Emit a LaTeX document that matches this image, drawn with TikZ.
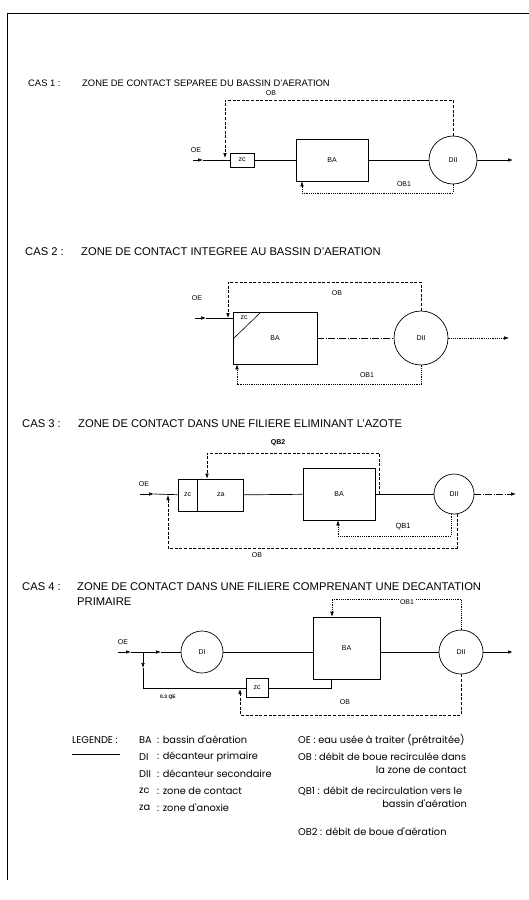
\documentclass[tikz,border=0pt]{standalone}
\usepackage{fontspec}
\setmainfont{Liberation Sans}
\newfontfamily\legfont{Poppins}
\usetikzlibrary{arrows.meta}

\newcommand{\tagfont}{\fontsize{7}{8}\selectfont}
\newcommand{\titlefont}{\fontsize{11.2}{12}\selectfont}
\newcommand{\legsize}{\legfont\fontsize{9.8}{11}\selectfont}

\tikzset{
  tank/.style={draw, rectangle, inner sep=0pt, line width=0.7pt, font=\tagfont},
  clar/.style={draw, circle, inner sep=0pt, minimum size=#1, line width=0.7pt, font=\tagfont},
  flow/.style={line width=0.7pt},
  recyc/.style={line width=0.6pt, dash pattern=on 3pt off 1.6pt},
  thinrec/.style={line width=0.5pt, dash pattern=on 1.3pt off 0.9pt},
  chain/.style={line width=0.6pt, dash pattern=on 7pt off 1.5pt on 1pt off 1.5pt},
  arr/.style={-{Latex[length=5pt,width=3.6pt]}},
  tag/.style={font=\tagfont, inner sep=0pt},
  title/.style={anchor=west, inner sep=0pt, font=\titlefont},
  leg/.style={anchor=west, inner sep=0pt, font=\legsize},
}

\begin{document}
\begin{tikzpicture}[x=1pt,y=-1pt]
  \path[use as bounding box] (0,0) rectangle (529,900);
  \fill[white] (0,0) rectangle (529,900);

  % page frame
  \draw[line width=0.8pt] (7,880) -- (7,13) -- (529,13);

  % CAS 1
  \node[title, font=\fontsize{9.4}{10}\selectfont] at (28,83) {CAS 1 :};
  \node[title, font=\fontsize{9.4}{10}\selectfont] at (82,83) {ZONE DE CONTACT SEPAREE DU BASSIN D'AERATION};
  \node[tank, minimum width=24pt, minimum height=14pt] (zc1) at (242,160) {zc};
  \node[tank, minimum width=72pt, minimum height=42pt] (ba1) at (332,160) {BA};
  \node[clar=48pt] (dii1) at (453,160) {DII};
  \coordinate (qe1) at (193,160);
  \coordinate (qa1) at (203,160);
  \coordinate (ob1) at (225,100);
  \coordinate (ob1t) at (225,158);
  \coordinate (qb1) at (302,193);
  \coordinate (out1) at (513,160);
  \draw[flow, arr] (qe1) -- (qa1);
  \draw[flow] (qa1) -- (zc1);
  \draw[flow] (zc1) -- (ba1);
  \draw[flow] (ba1) -- (dii1);
  \draw[flow, arr] (dii1) -- (out1);
  \draw[recyc, arr] (dii1.north) |- (ob1) -- (ob1t);
  \draw[thinrec, arr] (dii1.south) |- (qb1) -- (qb1 |- ba1.south);
  \node[tag] at (196,150) {OE};
  \node[tag] at (271,93) {OB};
  \node[tag] at (404,184) {OB1};

  % CAS 2
  \node[title] at (25,252) {CAS 2 :};
  \node[title] at (81,252) {ZONE DE CONTACT INTEGREE AU BASSIN D'AERATION};
  \node[tank, minimum width=84pt, minimum height=52pt] (ba2) at (275,338) {BA};
  \node[clar=54pt] (dii2) at (421,338) {DII};
  \coordinate (zca2) at (233,339);
  \coordinate (zcb2) at (261,312);
  \draw[line width=0.6pt] (zca2) -- (zcb2);
  \node[tag] at (244,318) {zc};
  \coordinate (qe2) at (195,318);
  \coordinate (qa2) at (206,318);
  \coordinate (ob2) at (228,282);
  \coordinate (ob2t) at (228,318);
  \coordinate (qb2) at (237,384);
  \coordinate (out2) at (509,338);
  \draw[flow, arr] (qe2) -- (qa2);
  \draw[flow] (qa2) -- (qa2 -| ba2.west);
  \draw[chain] (ba2) -- (dii2);
  \draw[thinrec, arr] (dii2) -- (out2);
  \draw[recyc, arr] (dii2.north) |- (ob2) -- (ob2t);
  \draw[thinrec, arr] (dii2.south) |- (qb2) -- (qb2 |- ba2.south);
  \node[tag] at (197,298) {OE};
  \node[tag] at (337,293) {OB};
  \node[tag] at (367,375) {OB1};

  % CAS 3
  \node[title] at (22,424) {CAS 3 :};
  \node[title] at (78,424) {ZONE DE CONTACT DANS UNE FILIERE ELIMINANT L'AZOTE};
  \node[tank, minimum width=19pt, minimum height=32pt] (zc3) at (187.5,495) {zc};
  \node[tank, minimum width=46pt, minimum height=32pt, anchor=west] (za3) at (zc3.east) {za};
  \node[tank, minimum width=72pt, minimum height=52pt] (ba3) at (339,494) {BA};
  \node[clar=40pt] (dii3) at (454,494) {DII};
  \coordinate (qe3) at (140,494);
  \coordinate (qa3) at (154,494);
  \coordinate (jq3) at (379,494);
  \coordinate (tq3) at (207,453);
  \coordinate (ob3) at (168,548);
  \coordinate (ob3t) at (168,495);
  \coordinate (qb3) at (338,536);
  \coordinate (out3) at (516,494);
  \draw[flow, arr] (qe3) -- (qa3);
  \draw[flow] (qa3) -- (zc3);
  \draw[flow] (za3) -- (ba3);
  \draw[flow] (ba3) -- (dii3);
  \draw[chain, arr] (dii3) -- (out3);
  \draw[recyc, arr] (jq3) |- (tq3) -- (tq3 |- za3.north);
  \draw[thinrec, arr] (dii3.-98) |- (qb3) -- (qb3 |- ba3.south);
  \draw[recyc, arr] (dii3.-82) |- (ob3) -- (ob3t);
  \node[tag] at (144,484) {OE};
  \node[tag, font=\fontsize{7}{8}\selectfont\bfseries] at (278,443) {QB2};
  \node[tag, font=\fontsize{7.5}{8}\selectfont] at (403,527) {QB1};
  \node[tag] at (257,555) {OB};

  % CAS 4
  \node[title] at (22,587) {CAS 4 :};
  \node[title] at (77,587) {ZONE DE CONTACT DANS UNE FILIERE COMPRENANT UNE DECANTATION};
  \node[title] at (77,602) {PRIMAIRE};
  \node[clar=42pt] (di4) at (202,652) {DI};
  \node[tank, minimum width=67pt, minimum height=62pt] (ba4) at (346.5,648) {BA};
  \node[clar=44pt] (dii4) at (461,652) {DII};
  \node[tank, minimum width=22pt, minimum height=19pt] (zc4) at (257,688) {zc};
  \coordinate (qe4) at (118,652);
  \coordinate (qa4) at (131,652);
  \coordinate (br4) at (143,652);
  \coordinate (qb4) at (161,652);
  \coordinate (dn4) at (143,668);
  \coordinate (lo4) at (143,688);
  \coordinate (up4) at (331,688);
  \coordinate (ob4) at (240,715);
  \coordinate (ob4t) at (240,689);
  \coordinate (rb4) at (332,599);
  \coordinate (out4) at (513,652);
  \draw[flow, arr] (qe4) -- (qa4);
  \draw[flow, arr] (qa4) -- (qb4);
  \draw[flow] (qb4) -- (di4);
  \draw[flow] (di4) -- (ba4.west |- di4);
  \draw[flow] (ba4.east |- dii4) -- (dii4);
  \draw[line width=1pt, arr] (dii4) -- (out4);
  \draw[flow, arr] (br4) -- (dn4);
  \draw[flow] (dn4) -- (lo4) -- (zc4);
  \draw[flow] (zc4) -- (up4) -- (up4 |- ba4.south);
  \draw[recyc, arr] (dii4.south) |- (ob4) -- (ob4t);
  \draw[thinrec, arr] (dii4.north) |- (rb4) -- (rb4 |- ba4.north);
  \node[tag] at (123,642) {OE};
  \node[tag, font=\fontsize{5}{6}\selectfont\bfseries] at (168,697) {0.3 QE};
  \node[tag] at (345,702) {OB};
  \node[tag, fill=white, inner sep=0.5pt] at (407,602) {OB1};

  % LEGENDE
  \node[leg] at (72,740) {LEGENDE :};
  \draw[line width=0.7pt] (72,754) -- (120,754);
  \foreach \yy/\ab/\txt in {740/BA/bassin d'aération, 757/DI/décanteur primaire,
      774/DII/décanteur secondaire, 791/zc/zone de contact, 808/za/zone d'anoxie}{
    \node[leg] at (139,\yy) {\ab};
    \node[leg] at (157,\yy) {: \txt};
  }
  \node[leg] at (298,740) {OE : eau usée à traiter (prétraitée)};
  \node[leg] at (298,757) {OB : débit de boue recirculée dans};
  \node[leg, anchor=east] at (467,770) {la zone de contact};
  \node[leg] at (298,791) {QB1 : débit de recirculation vers le};
  \node[leg, anchor=east] at (467,804) {bassin d'aération};
  \node[leg] at (298,832) {OB2 : débit de boue d'aération};
\end{tikzpicture}
\end{document}
